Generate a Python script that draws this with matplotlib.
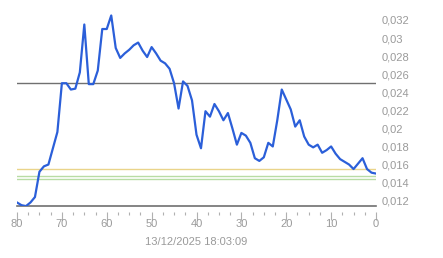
import numpy as np
import matplotlib
matplotlib.use("Agg")
import matplotlib.pyplot as plt
from matplotlib.ticker import FuncFormatter, MultipleLocator

# Values, x = 80 ... 0
x_vals = list(range(80, -1, -1))
y_vals = [0.0118, 0.0115, 0.0114, 0.0118, 0.0124, 0.0152, 0.0158, 0.0160, 0.0178, 0.0196,
          0.0250, 0.0250, 0.0243, 0.0244, 0.0262, 0.0315, 0.0249, 0.0249, 0.0264, 0.0310,
          0.0310, 0.0325, 0.0289, 0.0278, 0.0283, 0.0287, 0.0292, 0.0295, 0.0286, 0.0279,
          0.0290, 0.0283, 0.0275, 0.0272, 0.0266, 0.0250, 0.0222, 0.0252, 0.0247, 0.0231,
          0.0193, 0.0178, 0.0219, 0.0213, 0.0227, 0.0219, 0.0209, 0.0217, 0.0200, 0.0182,
          0.0195, 0.0192, 0.0184, 0.0167, 0.0164, 0.0168, 0.0184, 0.0180, 0.0209, 0.0243,
          0.0232, 0.0221, 0.0202, 0.0209, 0.0191, 0.0182, 0.0179, 0.0182, 0.0173, 0.0176,
          0.0180, 0.0172, 0.0166, 0.0163, 0.0160, 0.0155, 0.0161, 0.0167, 0.0155, 0.0151,
          0.0150]

# Reference levels
level_dark = 0.0250
level_yellow = 0.01547
level_green = [0.0147, 0.0144]

y_ticks = np.arange(0.012, 0.0321, 0.002)
date_label = "13/12/2025 18:03:09"

plt.rcParams['font.family'] = ['Liberation Sans', 'DejaVu Sans']
grey = '#9a9a9a'

fig = plt.figure(figsize=(4.43, 2.58), dpi=100)
ax = fig.add_axes([17 / 443, 52 / 258, 359 / 443, 203 / 258])

ymin, ymax = 0.01141, 0.03388
ax.set_xlim(80, 0)
ax.set_ylim(ymin, ymax)

ax.axhline(level_dark, color='#707070', lw=1.0, zorder=1)
ax.axhline(level_yellow, color='#ead48a', lw=1.0, zorder=1)
for lv in level_green:
    ax.axhline(lv, color='#b8dca4', lw=1.0, zorder=1)
# bottom axis line (ticks sit a few pixels below it)
ax.axhline(ymin, color='#707070', lw=1.2, zorder=2, clip_on=False)

ax.plot(x_vals, y_vals, color='#2b5fd9', lw=1.6, zorder=3)

for s in ['top', 'left', 'right']:
    ax.spines[s].set_visible(False)
ax.spines['bottom'].set_position(('outward', 4))
ax.spines['bottom'].set_color('none')

ax.xaxis.set_major_locator(MultipleLocator(10))
ax.xaxis.set_minor_locator(MultipleLocator(2.5))
ax.tick_params(axis='x', which='major', length=6, width=0.8, color='#b0b0b0',
               labelsize=8, labelcolor=grey, pad=-0.5, direction='out')
ax.tick_params(axis='x', which='minor', length=2.5, width=0.8, color='#b0b0b0')

ax.yaxis.tick_right()
ax.set_yticks(y_ticks)
ax.yaxis.set_major_formatter(FuncFormatter(
    lambda v, p: ('%.3f' % v).rstrip('0').replace('.', ',')))
ax.tick_params(axis='y', length=0, labelsize=8, labelcolor=grey, pad=4)

fig.text(196 / 443, 1 - 242 / 258, date_label, ha='center', va='center',
         fontsize=8, color=grey)

fig.savefig('out.png', dpi=100)
